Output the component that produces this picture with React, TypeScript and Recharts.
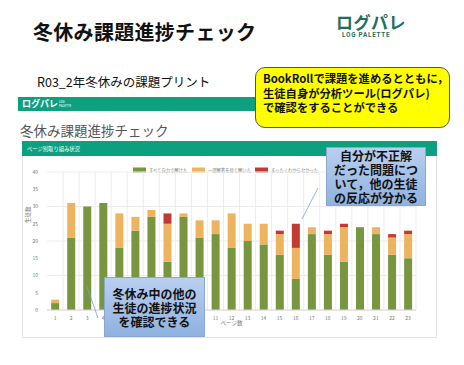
import * as React from "react";
import { BarChart, Bar, XAxis, YAxis, CartesianGrid } from "recharts";

const pages = ["1","2","3","4","5","6","7","8","9","10","11","12","13","14","15","16","17","18","19","20","21","22","23"];
const solvedAlone = [2, 21, 30, 31, 18, 23, 27, 14, 27, 21, 22, 18, 20, 19, 16, 9, 22, 16, 14, 24, 22, 16, 15];
const withAnswers = [1, 10, 0, 0, 10, 4, 2, 11, 1, 5, 4, 10, 5, 6, 6, 9, 2, 6, 10, 0, 2, 5, 7];
const noIdea = [0, 0, 0, 0, 0, 0, 0, 3, 0, 0, 0, 0, 0, 0, 1, 7, 0, 1, 1, 0, 0, 1, 1];
const yTicks = [0, 5, 10, 15, 20, 25, 30, 35, 40];

const series = [
  { key: "solved", name: "すべて自力で解けた", color: "#76963f" },
  { key: "partial", name: "一部解答を見て解いた", color: "#eeb35f" },
  { key: "none", name: "まったくわからなかった", color: "#c23a34" },
];
// x of each legend swatch
const legendX = [133, 192, 255];

const rows = pages.map((p, i) => ({
  page: p,
  solved: solvedAlone[i],
  partial: withAnswers[i],
  none: noIdea[i],
}));

const JP = '"Noto Sans CJK JP", "Noto Sans", sans-serif';
const TEAL = "#0da07f";

const abs = (s: React.CSSProperties): React.CSSProperties => ({ position: "absolute", ...s });

function Callout({ style, lines }: { style: React.CSSProperties; lines: string[] }) {
  return (
    <div
      style={abs({
        background: "linear-gradient(#b9cff0, #8fb2df)",
        border: "1px solid #88a6cf",
        fontFamily: JP,
        fontWeight: 700,
        fontSize: 12,
        lineHeight: "14px",
        color: "#111",
        textAlign: "center",
        boxSizing: "border-box",
        ...style,
      })}
    >
      {lines.map((l) => (
        <div key={l}>{l}</div>
      ))}
    </div>
  );
}

export default function App() {
  const gridX = ({ offset }: any) => {
    const step = offset.width / pages.length;
    return pages.map((_, i) => offset.left + step * (i + 1));
  };

  return (
    <div style={abs({ left: 0, top: 0, width: 464, height: 365, background: "#fff", overflow: "hidden", fontFamily: JP })}>
      {/* slide title + logo */}
      <div style={abs({ left: 33, top: 17, fontSize: 20, fontWeight: 700, color: "#111", letterSpacing: 0.3 })}>
        冬休み課題進捗チェック
      </div>
      <svg width={464} height={50} style={abs({ left: 0, top: 0 })}>
        <text x={336} y={29} fontSize={17} fontWeight={700} fill="#1f6f60" fontFamily={JP} letterSpacing={0.5}>ログパレ</text>
        <text x={342} y={37} fontSize={6.3} fontWeight={700} fill="#1f6f60" fontFamily="Roboto, sans-serif" letterSpacing={0.8}>LOG PALETTE</text>
      </svg>
      <div style={abs({ left: 37, top: 72, fontSize: 12.5, color: "#111" })}>R03_2年冬休みの課題プリント</div>

      {/* screenshot */}
      <div style={abs({ left: 18, top: 97, width: 424, height: 14, background: TEAL })} />
      <div style={abs({ left: 22, top: 97, fontSize: 9, fontWeight: 700, color: "#fff", lineHeight: "14px" })}>ログパレ</div>
      <div style={abs({ left: 20, top: 120, fontSize: 13.5, color: "#555" })}>冬休み課題進捗チェック</div>
      <div style={abs({ left: 22, top: 141, width: 415, height: 197, background: "#fff", border: "1px solid #e4e4e4", boxSizing: "border-box" })} />
      <div style={abs({ left: 22, top: 141, width: 415, height: 15, background: TEAL })} />

      <svg width={464} height={365} style={abs({ left: 0, top: 0 })}>
        <text x={59} y={103} fontSize={3} fill="#fff" fontFamily="Roboto">LOG</text>
        <text x={59} y={107} fontSize={3} fill="#fff" fontFamily="Roboto">PALETTE</text>
        <text x={27} y={150.5} fontSize={5.3} fill="#fff" fontFamily={JP}>ページ別取り組み状況</text>
        {series.map((s, i) => (
          <g key={s.key}>
            <rect x={legendX[i]} y={167.5} width={13} height={5} fill={s.color} />
            <text x={legendX[i] + 16} y={171.7} fontSize={4.3} fill="#777" fontFamily={JP}>{s.name}</text>
          </g>
        ))}
      </svg>

      <div style={abs({ left: 20, top: 160 })}>
        <BarChart
          width={420}
          height={180}
          data={rows}
          margin={{ top: 12, right: 24, bottom: 6, left: 0 }}
          barCategoryGap="26%"
        >
          <CartesianGrid stroke="#ececec" verticalCoordinatesGenerator={gridX} />
          <XAxis
            dataKey="page"
            height={24}
            tickLine={false}
            axisLine={{ stroke: "#d8d8d8" }}
            tick={{ fontSize: 5, fill: "#777" }}
            tickMargin={0}
            label={{ value: "ページ数", position: "insideBottom", offset: 9, fontSize: 5.5, fill: "#777" }}
          />
          <YAxis
            width={27}
            domain={[0, 40]}
            ticks={yTicks}
            tickLine={false}
            axisLine={false}
            tick={{ fontSize: 5, fill: "#777" }}
            tickMargin={3}
            label={{ value: "生徒数", angle: -90, position: "insideLeft", offset: 8, fontSize: 5.5, fill: "#777", dy: -18 }}
          />
          {series.map((s) => (
            <Bar key={s.key} dataKey={s.key} name={s.name} stackId="a" fill={s.color} isAnimationActive={false} />
          ))}
        </BarChart>
      </div>

      {/* pointers */}
      <svg width={464} height={365} style={abs({ left: 0, top: 0, pointerEvents: "none" })}>
        <line x1={87} y1={287} x2={98} y2={318} stroke="#7c9fcf" strokeWidth={0.8} />
        <line x1={318} y1={188} x2={302} y2={219} stroke="#7c9fcf" strokeWidth={0.8} />
      </svg>

      {/* callouts */}
      <div
        style={abs({
          left: 255,
          top: 67,
          width: 195,
          height: 61,
          background: "#ffff00",
          border: "1px solid #555",
          borderRadius: 10,
          boxSizing: "border-box",
          padding: "3px 0 0 7px",
          fontSize: 11.3,
          fontWeight: 700,
          lineHeight: "14.5px",
          color: "#111",
          whiteSpace: "nowrap",
        })}
      >
        <div>BookRollで課題を進めるとともに，</div>
        <div>生徒自身が分析ツール(ログパレ)</div>
        <div>で確認をすることができる</div>
      </div>
      <Callout style={{ left: 104, top: 277, width: 101, height: 60, paddingTop: 9 }} lines={["冬休み中の他の", "生徒の進捗状況", "を確認できる"]} />
      <Callout style={{ left: 326, top: 147, width: 100, height: 59, paddingTop: 1 }} lines={["自分が不正解", "だった問題につ", "いて，他の生徒", "の反応が分かる"]} />
    </div>
  );
}
